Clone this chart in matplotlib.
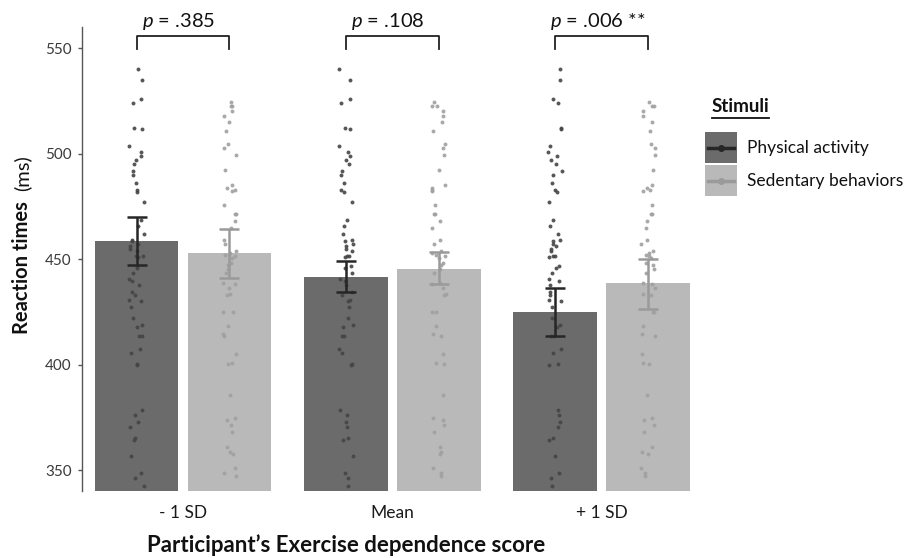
import numpy as np
import matplotlib
matplotlib.use("Agg")
import matplotlib.pyplot as plt
from matplotlib.patches import Rectangle
from matplotlib.lines import Line2D

plt.rcParams['font.family'] = ['Lato', 'DejaVu Sans']
plt.rcParams['mathtext.fontset'] = 'custom'
plt.rcParams['mathtext.it'] = 'Lato:italic'
plt.rcParams['mathtext.rm'] = 'Lato'

# ---------------- data ----------------
groups = ["- 1 SD", "Mean", "+ 1 SD"]
series = ["Physical activity", "Sedentary behaviors"]
means_pa = [458.4, 441.6, 425.0]
means_sb = [452.7, 445.4, 438.5]
ci_pa_low = [447.0, 434.5, 413.5]
ci_pa_high = [469.9, 449.0, 436.4]
ci_sb_low = [441.0, 438.0, 426.6]
ci_sb_high = [464.4, 453.2, 450.1]
p_labels = ["= .385", "= .108", "= .006 **"]

raw_pa = [540, 535, 526, 524, 512, 511.5, 503.6, 501, 499, 497, 495, 492, 490,
          486, 483, 482, 477, 468.5, 465.5, 462, 459.3, 458.5, 457.3, 456.2,
          454.6, 453.8, 451.7, 451.4, 450.9, 446.7, 445.9, 443.5, 440.4, 439.6,
          437.7, 434.2, 432.9, 430.4, 430.1, 427.4, 422, 418.7, 417.8, 413.8,
          413.4, 407.2, 405.3, 400.1, 399.6, 378.3, 376.1, 372.9, 370.5, 365.2,
          364.4, 356.6, 348.6, 346.2, 342.4]
raw_sb = [524.6, 522.8, 522.5, 520.1, 518.1, 515.1, 511, 504.8, 502.5, 499.6,
          492.5, 485.4, 483.8, 483, 482.2, 475.9, 471.5, 471.2, 468, 464.8,
          459.3, 457, 453.8, 453, 452.2, 451.4, 450.6, 448.3, 447.2, 445.1,
          443.5, 438.8, 438, 436.4, 433.3, 433, 425, 425, 418.2, 414.3, 413.5,
          404.8, 400.9, 400.1, 385.4, 374.5, 373.5, 371.3, 368.2, 361, 358.7,
          357.4, 350.8, 348.7, 347.2]
yticks = [350, 400, 450, 500, 550]

# ---------------- styling ----------------
c_pa = "#6b6b6b"
c_sb = "#b9b9b9"
c_pa_err = "#262626"
c_sb_err = "#9a9a9a"
c_pa_dot = "#454545"
c_sb_dot = "#a0a0a0"

W, H = 909, 558
fig = plt.figure(figsize=(W / 100, H / 100), dpi=100)
ax_l, ax_r, ax_t, ax_b = 81.5, 700, 27, 490.7
ax = fig.add_axes([ax_l / W, 1 - ax_b / H, (ax_r - ax_l) / W, (ax_b - ax_t) / H])

x = np.arange(len(groups))
off = 0.222
bw = 0.40
ax.bar(x - off, means_pa, width=bw, color=c_pa, zorder=1)
ax.bar(x + off, means_sb, width=bw, color=c_sb, zorder=1)

rng = np.random.default_rng(7)
for i in range(len(groups)):
    jp = rng.uniform(-0.035, 0.035, len(raw_pa))
    js = rng.uniform(-0.035, 0.035, len(raw_sb))
    ax.scatter(x[i] - off + jp, raw_pa, s=8, color=c_pa_dot, alpha=0.9,
               linewidths=0, zorder=2)
    ax.scatter(x[i] + off + js, raw_sb, s=8, color=c_sb_dot, alpha=0.9,
               linewidths=0, zorder=2)

m_pa = np.array(means_pa)
m_sb = np.array(means_sb)
ax.errorbar(x - off, m_pa, yerr=[m_pa - np.array(ci_pa_low), np.array(ci_pa_high) - m_pa],
            fmt='none', ecolor=c_pa_err, elinewidth=1.8, capsize=7, capthick=1.8, zorder=3)
ax.errorbar(x + off, m_sb, yerr=[m_sb - np.array(ci_sb_low), np.array(ci_sb_high) - m_sb],
            fmt='none', ecolor=c_sb_err, elinewidth=1.8, capsize=7, capthick=1.8, zorder=3)

ax.set_ylim(340.2, 560.1)
ax.set_xlim(-0.485, 2.47)
ax.set_yticks(yticks)
ax.set_yticklabels([str(t) for t in yticks], fontsize=11, color="#3a3a3a")
ax.set_xticks(x)
ax.set_xticklabels(groups, fontsize=12.5, color="#1a1a1a")
ax.tick_params(axis='x', length=0, pad=10)
ax.tick_params(axis='y', length=3, width=1, color="#555555", pad=4)
for s in ['top', 'right', 'bottom']:
    ax.spines[s].set_visible(False)
ax.spines['left'].set_color("#555555")
ax.spines['left'].set_linewidth(1.0)

# significance brackets
for i in range(len(groups)):
    x0, x1 = x[i] - off, x[i] + off
    ax.plot([x0, x0, x1, x1], [549.7, 555.6, 555.6, 549.7], color="#222222",
            lw=1.3, clip_on=False, zorder=4)
    ax.text(x[i] - 0.02, 560.3, r"$\it{p}$ " + p_labels[i], ha='center', va='baseline',
            fontsize=14.5, color="#111111", clip_on=False)

# axis labels
fig.text(22 / W, 1 - 268 / H, "Reaction times", rotation=90, ha='center', va='center',
         fontsize=14.5, fontweight='bold', color="#111111")
fig.text(22 / W, 1 - 173 / H, "(ms)", rotation=90, ha='center', va='center',
         fontsize=14.5, color="#111111")
fig.text(346 / W, 1 - 545 / H, "Participant\u2019s Exercise dependence score",
         ha='center', va='center', fontsize=16, fontweight='bold', color="#111111")

# legend (manual)
tr = fig.transFigure
def fx(px):
    return px / W
def fy(py):
    return 1 - py / H

fig.text(fx(712), fy(107), "Stimuli", ha='left', va='center', fontsize=13.5,
         fontweight='bold', color="#111111")
fig.add_artist(Line2D([fx(712), fx(769)], [fy(117.5), fy(117.5)], color="#111111", lw=1.3,
                      transform=tr))
keys = [(series[0], c_pa, c_pa_err, 132), (series[1], c_sb, c_sb_err, 165)]
for lab, fc, lc, top in keys:
    fig.add_artist(Rectangle((fx(705), fy(top + 31)), 32 / W, 31 / H, facecolor=fc,
                             edgecolor='none', transform=tr))
    fig.add_artist(Line2D([fx(708), fx(734)], [fy(top + 15.5)] * 2, color=lc, lw=2.5,
                          transform=tr))
    fig.add_artist(Line2D([fx(721)], [fy(top + 15.5)], color=lc, marker='o', ms=4,
                          transform=tr))
    fig.text(fx(747), fy(top + 15.5), lab, ha='left', va='center', fontsize=12.5,
             color="#111111")

fig.savefig("out.png", dpi=100)
